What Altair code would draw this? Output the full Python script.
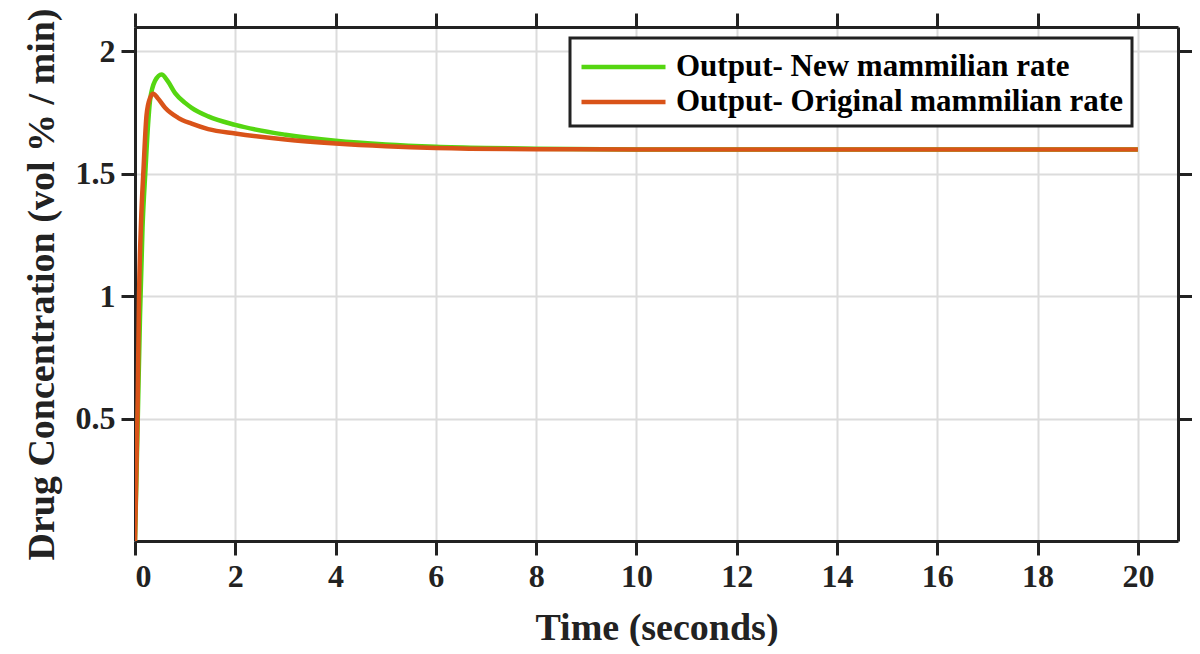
import altair as alt
import pandas as pd

# Series: Output- New mammilian rate (green)
t_new = [0, 0.05, 0.1, 0.15, 0.21, 0.26, 0.3, 0.4, 0.53, 0.65, 0.8, 1.0, 1.13, 1.46, 2.0, 3.0, 4.0, 5.0, 6.0, 7.0, 8.0, 10, 12, 14, 16, 18, 20]
y_new = [0, 0.45, 0.92, 1.28, 1.52, 1.70, 1.80, 1.88, 1.906, 1.88, 1.83, 1.79, 1.77, 1.735, 1.70, 1.66, 1.635, 1.62, 1.611, 1.606, 1.603, 1.600, 1.600, 1.600, 1.600, 1.600, 1.600]

# Series: Output- Original mammilian rate (orange)
t_orig = [0, 0.05, 0.08, 0.12, 0.17, 0.23, 0.3, 0.365, 0.45, 0.6, 0.86, 1.13, 1.46, 2.0, 3.0, 4.0, 5.0, 6.0, 8.0, 10, 12, 14, 16, 18, 20]
y_orig = [0, 0.52, 1.0, 1.3, 1.52, 1.74, 1.81, 1.827, 1.81, 1.77, 1.729, 1.705, 1.683, 1.665, 1.640, 1.624, 1.613, 1.606, 1.601, 1.600, 1.600, 1.600, 1.600, 1.600, 1.600]

names = ["Output- New mammilian rate", "Output- Original mammilian rate"]
colors = ["#55d611", "#d95319"]
x_ticks = [0, 2, 4, 6, 8, 10, 12, 14, 16, 18, 20]
y_ticks = [0.5, 1, 1.5, 2]

rows = []
for t, y in zip(t_new, y_new):
    rows.append({"t": t, "y": y, "series": names[0], "o": 0})
for t, y in zip(t_orig, y_orig):
    rows.append({"t": t, "y": y, "series": names[1], "o": 1})
df = pd.DataFrame(rows)

FONT = "Liberation Serif"
xscale = alt.Scale(domain=[0, 20.8], nice=False, zero=False)
yscale = alt.Scale(domain=[0, 2.1], nice=False, zero=False)

lines = alt.Chart(df).mark_line(strokeWidth=4.5, interpolate="monotone", clip=True).encode(
    x=alt.X("t:Q", scale=xscale,
            axis=alt.Axis(values=x_ticks, title="Time (seconds)", orient="bottom",
                          labelFontSize=32, titleFontSize=38, titlePadding=17,
                          labelPadding=6)),
    y=alt.Y("y:Q", scale=yscale,
            axis=alt.Axis(values=y_ticks, format="~g", title="Drug Concentration (vol % / min)",
                          orient="left", labelFontSize=32, titleFontSize=38, titlePadding=14,
                          labelPadding=6)),
    color=alt.Color("series:N", scale=alt.Scale(domain=names, range=colors),
                    legend=alt.Legend(title=None, orient="none", legendX=435, legendY=11,
                                      symbolType="M-1,0H3.8", symbolSize=1225, symbolStrokeWidth=4.5,
                                      labelFontSize=31, labelFont=FONT, labelFontWeight="bold",
                                      labelColor="black", strokeColor="#222", fillColor="white",
                                      padding=9, rowPadding=0, labelOffset=57,
                                      labelLimit=700)),
    order="o:Q",
)

frame = alt.Chart(df).mark_line(opacity=0).encode(
    x=alt.X("t:Q", scale=xscale,
            axis=alt.Axis(values=x_ticks, orient="top", labels=False, title=None, grid=False)),
    y=alt.Y("y:Q", scale=yscale,
            axis=alt.Axis(values=y_ticks, orient="right", labels=False, title=None, grid=False)),
)

chart = alt.layer(lines, frame).resolve_axis(x="independent", y="independent").properties(
    width=1043, height=514,
    autosize=alt.AutoSizeParams(type="none"),
    padding={"left": 127, "top": 19, "right": 14, "bottom": 105},
    background="white",
).configure_view(stroke=None).configure_axis(
    labelFont=FONT, titleFont=FONT, labelFontWeight="bold", titleFontWeight="bold",
    labelColor="#222", titleColor="#222",
    domainColor="#222", domainWidth=3, tickColor="#222", tickWidth=3, tickSize=14,
    gridColor="#dcdcdc", gridWidth=2,
).configure_legend(strokeWidth=3)

chart.save("out.html", embed_options={"renderer": "svg", "actions": False})
